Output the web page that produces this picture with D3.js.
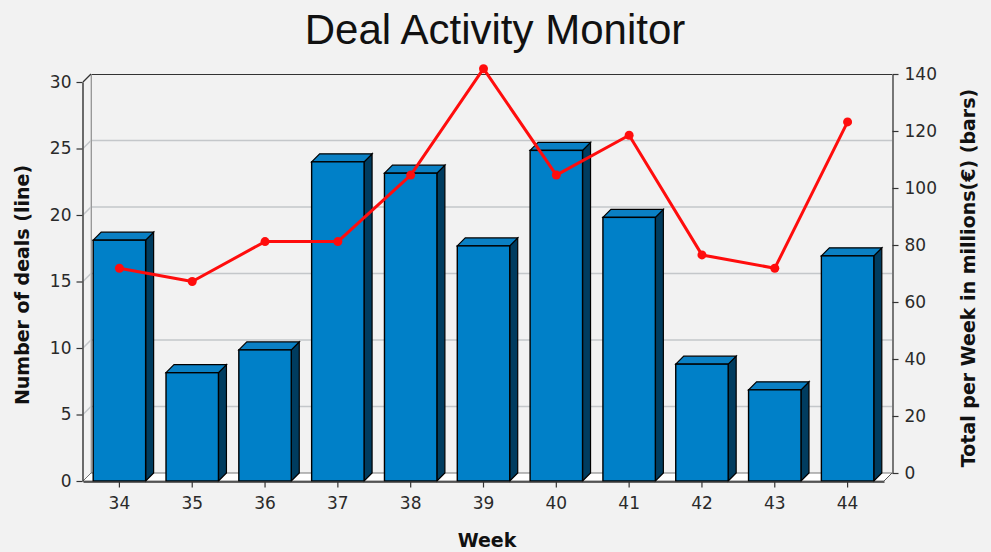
<!DOCTYPE html>
<html>
<head>
<meta charset="utf-8">
<script src="https://cdn.jsdelivr.net/npm/d3@7"></script>
<style>
  html, body { margin: 0; padding: 0; background: #f2f2f2; }
  svg { display: block; }
</style>
</head>
<body>
<svg id="chart" width="991" height="552"></svg>
<script>
// data
var weeks = ["34", "35", "36", "37", "38", "39", "40", "41", "42", "43", "44"];
var totals = [84.5, 38, 46, 112, 108, 82.5, 116, 92.5, 41, 32, 79];   // bars, right axis
var deals = [16, 15, 18, 18, 23, 31, 23, 26, 17, 16, 27];            // line, left axis
var leftTicks = [0, 5, 10, 15, 20, 25, 30];
var rightTicks = [0, 20, 40, 60, 80, 100, 120, 140];

var W = 991, H = 552;
// front plane of the 3d plot, and the depth offset to the back wall
var front = { left: 83, right: 884, top: 82, bottom: 481 };
var depth = 8;

var svg = d3.select("#chart");

svg.append("rect").attr("width", W).attr("height", H).attr("fill", "#f2f2f2");

var xScale = d3.scaleBand().domain(weeks).range([front.left, front.right]).padding(0);
var yLeft = d3.scaleLinear().domain([0, 30]).range([front.bottom, front.top]);
var yRight = d3.scaleLinear().domain([0, 140]).range([front.bottom, front.top]);

var g = svg.append("g");

// left wall
g.append("path")
    .attr("d", d3.line()([[front.left, front.top], [front.left + depth, front.top - depth],
        [front.left + depth, front.bottom - depth], [front.left, front.bottom]]) + "Z")
    .attr("fill", "#f2f2f2").attr("stroke", "#b0b0b0").attr("stroke-width", 1);

// gridlines (left axis ticks), running over the left wall and across the back wall
leftTicks.filter(function (t) { return t > 0 && t < 30; }).forEach(function (t) {
    var y = yLeft(t);
    g.append("path")
        .attr("d", d3.line()([[front.left, y], [front.left + depth, y - depth], [front.right + depth, y - depth]]))
        .attr("fill", "none").attr("stroke", "#c4c7ca").attr("stroke-width", 1.5);
});

// back wall top and left edge
g.append("line")
    .attr("x1", front.left + depth).attr("x2", front.right + depth)
    .attr("y1", front.top - depth + 0.5).attr("y2", front.top - depth + 0.5)
    .attr("stroke", "#333").attr("stroke-width", 1.2);
g.append("line")
    .attr("x1", front.left + depth + 0.5).attr("x2", front.left + depth + 0.5)
    .attr("y1", front.top - depth).attr("y2", front.bottom - depth)
    .attr("stroke", "#999").attr("stroke-width", 1);

// floor
g.append("path")
    .attr("d", d3.line()([[front.left, front.bottom], [front.left + depth, front.bottom - depth],
        [front.right + depth, front.bottom - depth], [front.right, front.bottom]]) + "Z")
    .attr("fill", "#ffffff").attr("stroke", "#555").attr("stroke-width", 0.8);

// bars in 3d
var barW = xScale.bandwidth() * 0.72;
var bars = g.append("g").selectAll("g").data(weeks).join("g");
bars.each(function (wk, i) {
    var cx = xScale(wk) + xScale.bandwidth() / 2;
    var x0 = cx - barW / 2, x1 = cx + barW / 2;
    var yt = yRight(totals[i]), yb = yRight(0);
    var b = d3.select(this);
    // side
    b.append("path")
        .attr("d", d3.line()([[x1, yt], [x1 + depth, yt - depth], [x1 + depth, yb - depth], [x1, yb]]) + "Z")
        .attr("fill", "#003c5f").attr("stroke", "#000").attr("stroke-width", 1.2);
    // top
    b.append("path")
        .attr("d", d3.line()([[x0, yt], [x0 + depth, yt - depth], [x1 + depth, yt - depth], [x1, yt]]) + "Z")
        .attr("fill", "#0a80c4").attr("stroke", "#000").attr("stroke-width", 1.2);
    // front
    b.append("rect")
        .attr("x", x0).attr("y", yt).attr("width", x1 - x0).attr("height", yb - yt)
        .attr("fill", "#0080c8").attr("stroke", "#000").attr("stroke-width", 1.4);
});

// right wall edge / right axis
var rx = front.right + depth;
svg.append("path")
    .attr("d", d3.line()([[front.right, front.bottom], [rx, front.bottom - depth]]))
    .attr("stroke", "#555").attr("stroke-width", 1);

var yRightBack = d3.scaleLinear().domain([0, 140]).range([front.bottom - depth, front.top - depth]);
var rightAxis = svg.append("g")
    .attr("transform", "translate(" + (rx + 0.5) + ",0)")
    .call(d3.axisRight(yRightBack).tickValues(rightTicks).tickSize(6).tickPadding(6).tickSizeOuter(0));
rightAxis.select(".domain").attr("stroke", "#333").attr("stroke-width", 1.3);
rightAxis.selectAll(".tick line").attr("stroke", "#333").attr("stroke-width", 1.2);
rightAxis.selectAll("text")
    .attr("font-family", "DejaVu Sans, sans-serif").attr("font-size", 17).attr("fill", "#2a2a2a");

// left axis
var leftAxis = svg.append("g")
    .attr("transform", "translate(" + (front.left - 0.5) + ",0)")
    .call(d3.axisLeft(yLeft).tickValues(leftTicks).tickSize(6).tickPadding(5).tickSizeOuter(0));
leftAxis.select(".domain").attr("stroke", "#333").attr("stroke-width", 1.3);
leftAxis.selectAll(".tick line").attr("stroke", "#333").attr("stroke-width", 1.2);
leftAxis.selectAll("text")
    .attr("font-family", "DejaVu Sans, sans-serif").attr("font-size", 17).attr("fill", "#2a2a2a");

// top-left corner joining front axis to back wall
svg.append("path")
    .attr("d", d3.line()([[front.left, front.top], [front.left + depth, front.top - depth]]))
    .attr("stroke", "#333").attr("stroke-width", 1.2);

// category axis
var bottomAxis = svg.append("g")
    .attr("transform", "translate(0," + (front.bottom + 0.5) + ")")
    .call(d3.axisBottom(xScale).tickSize(6).tickPadding(9).tickSizeOuter(0));
bottomAxis.select(".domain").attr("stroke", "#333").attr("stroke-width", 1.3);
bottomAxis.selectAll(".tick line").attr("stroke", "#333").attr("stroke-width", 1.2);
bottomAxis.selectAll("text")
    .attr("font-family", "DejaVu Sans, sans-serif").attr("font-size", 17).attr("fill", "#2a2a2a");

// line series
var lineGen = d3.line()
    .x(function (d, i) { return xScale(weeks[i]) + xScale.bandwidth() / 2; })
    .y(function (d) { return yLeft(d); });
svg.append("path")
    .datum(deals)
    .attr("d", lineGen)
    .attr("fill", "none").attr("stroke", "#ff0d0d").attr("stroke-width", 3)
    .attr("stroke-linejoin", "round");
svg.append("g").selectAll("circle").data(deals).join("circle")
    .attr("cx", function (d, i) { return xScale(weeks[i]) + xScale.bandwidth() / 2; })
    .attr("cy", function (d) { return yLeft(d); })
    .attr("r", 4.5)
    .attr("fill", "#ff0d0d");

// titles
svg.append("text")
    .attr("x", 495).attr("y", 44)
    .attr("text-anchor", "middle")
    .attr("font-family", "Liberation Sans, Arial, sans-serif").attr("font-size", 42)
    .attr("fill", "#111")
    .text("Deal Activity Monitor");

svg.append("text")
    .attr("transform", "translate(29,285) rotate(-90)")
    .attr("text-anchor", "middle")
    .attr("font-family", "DejaVu Sans, sans-serif").attr("font-weight", "bold").attr("font-size", 19)
    .attr("fill", "#111")
    .text("Number of deals (line)");

svg.append("text")
    .attr("transform", "translate(975,278) rotate(-90)")
    .attr("text-anchor", "middle")
    .attr("font-family", "DejaVu Sans, sans-serif").attr("font-weight", "bold").attr("font-size", 19)
    .attr("fill", "#111")
    .text("Total per Week in millions(€) (bars)");

svg.append("text")
    .attr("x", 487).attr("y", 547)
    .attr("text-anchor", "middle")
    .attr("font-family", "DejaVu Sans, sans-serif").attr("font-weight", "bold").attr("font-size", 19)
    .attr("fill", "#111")
    .text("Week");
</script>
</body>
</html>
